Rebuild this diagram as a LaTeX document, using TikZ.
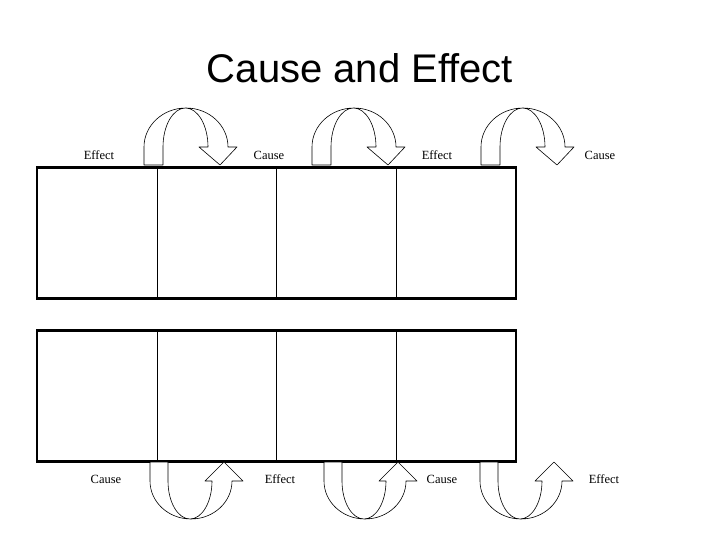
\documentclass[tikz,border=0pt]{standalone}
\usepackage{fontspec}
\setmainfont{Liberation Serif}
\newfontfamily\titlefont{Liberation Sans}
\usepackage{tikz}
\usetikzlibrary{shapes, calc}

\begin{document}
\begin{tikzpicture}[x=1pt, y=-1pt,
    panel/.style={draw, line width=2.5pt, minimum width=479pt, minimum height=131pt, inner sep=0pt},
    swap/.style={draw, line width=0.6pt, fill=white, line join=round},
    tag/.style={font=\fontsize{12.5}{14}\selectfont}]
    \useasboundingbox (0,0) rectangle (720,540);

    % --- Title ---
    \node[font=\titlefont\fontsize{40}{44}\selectfont] (title) at (360,68) {Cause and Effect};

    % --- Two rows of boxes ---
    \node[panel] (toprow) at (276.5,233) {};
    \node[panel] (botrow) at (276.5,396) {};
    \foreach \x in {157, 276, 396} {
        \draw[line width=0.8pt] (\x,168) -- (\x,298);
        \draw[line width=0.8pt] (\x,331) -- (\x,461);
    }

    % --- Top: curved arrows going over ---
    \foreach \x in {144, 312, 481} {
        \draw[swap] (\x,165) -- (\x,147)
            arc[start angle=180, end angle=0, x radius=42pt, y radius=39pt]
            -- ++(9,0) -- ++(-17,18) -- ++(-21,-18) -- ++(9,0)
            arc[start angle=0, end angle=180, x radius=22.5pt, y radius=39pt]
            -- ++(0,18) -- cycle;
    }

    % --- Bottom: curved arrows going under ---
    \foreach \x in {150, 324, 480} {
        \draw[swap] (\x,462) -- (\x,481)
            arc[start angle=180, end angle=360, x radius=41pt, y radius=38pt]
            -- ++(11,0) -- ++(-19,-19) -- ++(-19,19) -- ++(7,0)
            arc[start angle=0, end angle=-180, x radius=22pt, y radius=38pt]
            -- ++(0,-19) -- cycle;
    }

    % --- Labels ---
    \node[tag] (effect1) at (99,155) {Effect};
    \node[tag] (cause1) at (269,155) {Cause};
    \node[tag] (effect2) at (437,155) {Effect};
    \node[tag] (cause2) at (600,155) {Cause};

    \node[tag] (cause3) at (106,479) {Cause};
    \node[tag] (effect3) at (280,479) {Effect};
    \node[tag] (cause4) at (442,479) {Cause};
    \node[tag] (effect4) at (604,479) {Effect};

\end{tikzpicture}
\end{document}
